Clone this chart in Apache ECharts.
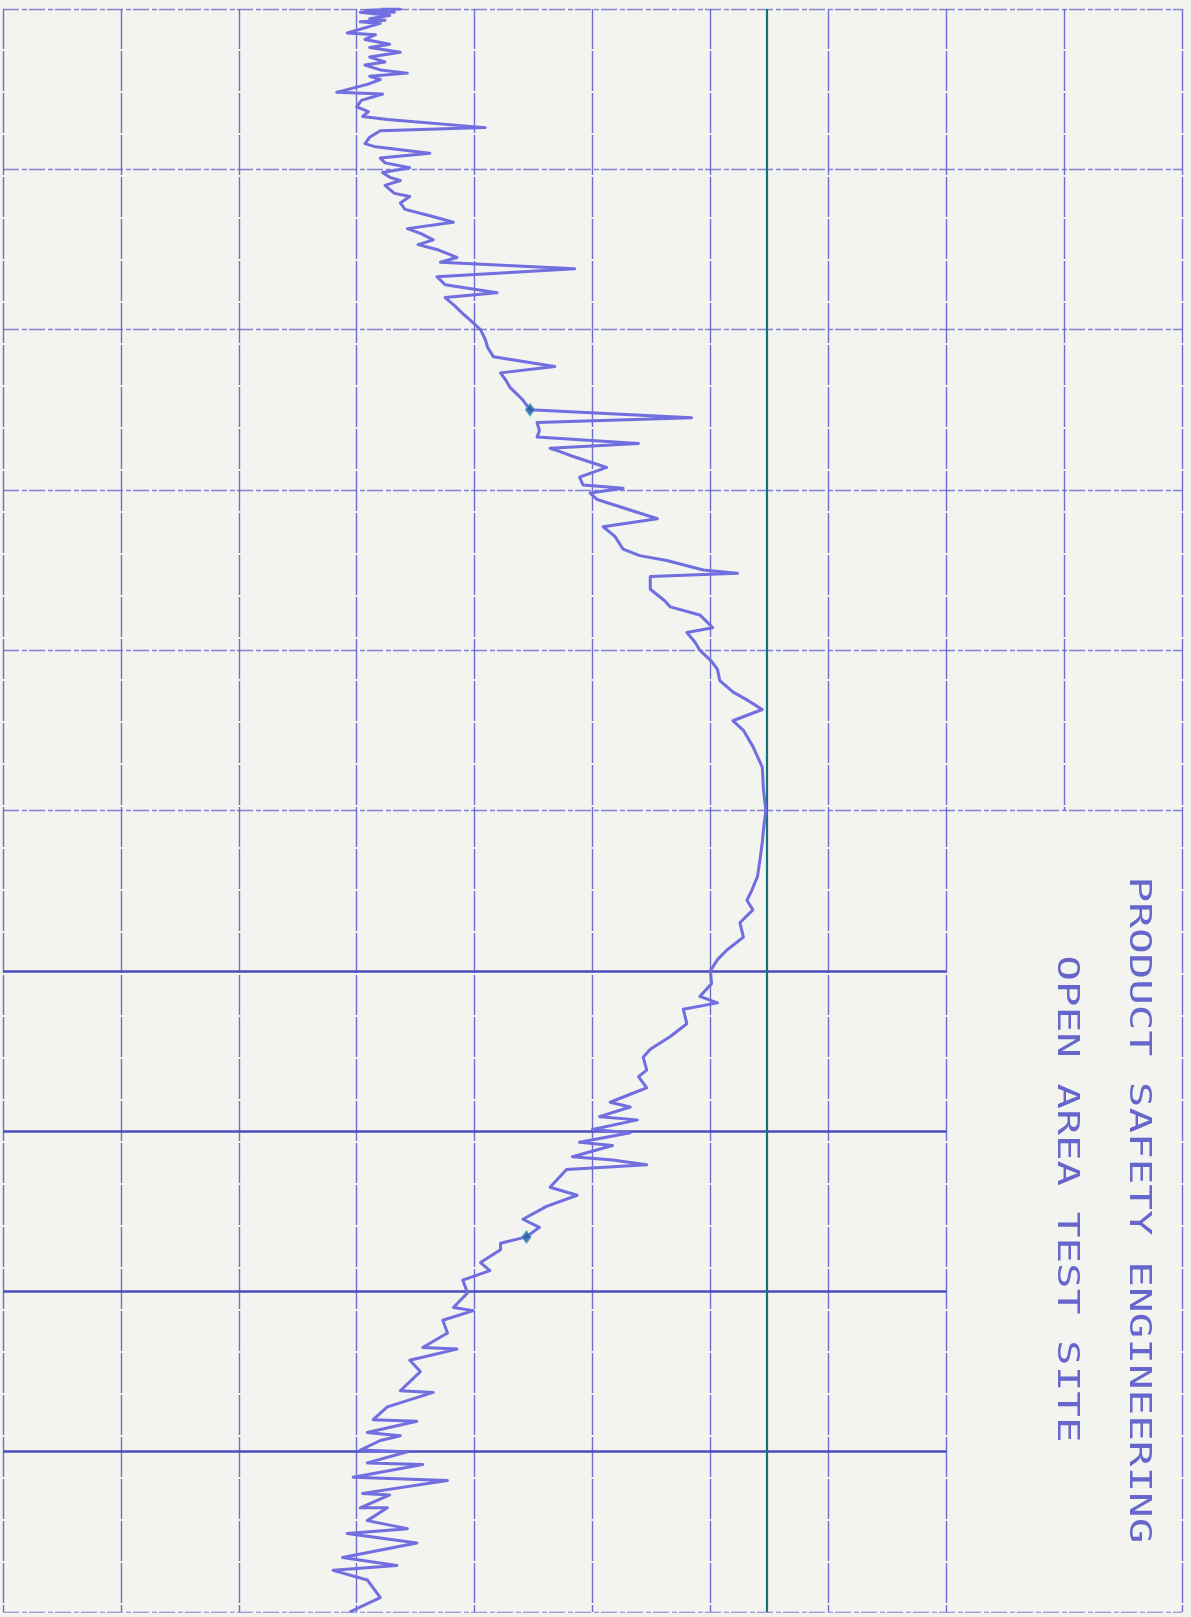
<!DOCTYPE html>
<html>
<head>
<meta charset="utf-8">
<script src="https://cdn.jsdelivr.net/npm/echarts@6/dist/echarts.min.js"></script>
<style>
  html, body { margin: 0; padding: 0; background: #f3f3ef; }
  #chart { width: 1191px; height: 1617px; }
</style>
</head>
<body>
<div id="chart"></div>
<script>
// Sweep position along the scan (grid divisions, 0 at the top edge)
const sweepPos = [
  0.00,0.00,0.01,0.02,0.02,0.04,0.06,0.07,0.08,0.09,
  0.15,0.16,0.19,0.22,0.24,0.27,0.30,0.33,0.35,0.38,
  0.40,0.42,0.44,0.47,0.52,0.53,0.57,0.61,0.64,0.67,
  0.69,0.74,0.76,0.80,0.84,0.86,0.90,0.93,0.96,0.99,
  1.02,1.05,1.07,1.10,1.15,1.17,1.21,1.25,1.29,1.33,
  1.37,1.40,1.44,1.47,1.50,1.55,1.58,1.62,1.67,1.72,
  1.77,1.80,1.85,1.90,1.94,2.00,2.06,2.11,2.17,2.23,
  2.27,2.31,2.36,2.41,2.44,2.50,2.55,2.58,2.63,2.67,
  2.71,2.74,2.76,2.79,2.86,2.92,2.97,2.99,3.02,3.06,
  3.18,3.23,3.29,3.37,3.41,3.44,3.50,3.52,3.54,3.62,
  3.69,3.73,3.78,3.86,3.89,3.95,4.00,4.07,4.12,4.19,
  4.26,4.31,4.37,4.44,4.50,4.60,4.73,4.87,5.00,5.12,
  5.20,5.31,5.41,5.50,5.56,5.62,5.70,5.79,5.87,5.93,
  6.00,6.08,6.16,6.20,6.24,6.33,6.41,6.49,6.54,6.62,
  6.66,6.73,6.77,6.82,6.85,6.91,6.93,6.99,7.01,7.07,
  7.09,7.16,7.18,7.21,7.24,7.35,7.40,7.47,7.55,7.60,
  7.66,7.70,7.74,7.82,7.87,7.93,8.01,8.10,8.12,8.18,
  8.26,8.35,8.36,8.43,8.50,8.62,8.63,8.72,8.80,8.81,
  8.88,8.90,8.93,8.99,9.00,9.07,9.08,9.16,9.18,9.26,
  9.27,9.35,9.35,9.43,9.48,9.51,9.57,9.66,9.71,9.74,
  9.80,9.91,10.00
];

// Measured level at each sweep position (grid divisions from the left edge)
const levelDiv = [
  3.20,3.37,3.07,3.32,3.03,3.28,3.11,3.24,3.03,3.20,
  2.92,3.16,3.07,3.28,3.11,3.37,3.11,3.24,3.07,3.20,
  3.43,3.11,3.20,3.09,2.83,3.22,3.04,3.00,3.10,3.05,
  3.26,4.09,3.20,3.11,3.07,3.16,3.62,3.20,3.24,3.45,
  3.22,3.28,3.37,3.24,3.32,3.45,3.37,3.41,3.62,3.82,
  3.43,3.54,3.65,3.52,3.68,3.85,3.71,4.85,3.68,3.75,
  4.19,3.75,3.83,3.90,3.96,4.05,4.09,4.11,4.16,4.68,
  4.22,4.26,4.30,4.37,4.41,4.47,5.84,4.53,4.55,4.53,
  5.39,4.64,4.72,4.83,5.12,4.89,4.92,5.26,4.98,5.04,
  5.55,5.09,5.19,5.26,5.40,5.63,5.94,6.23,5.49,5.49,
  5.61,5.66,5.91,6.02,5.80,5.87,5.91,6.01,6.06,6.08,
  6.19,6.31,6.44,6.19,6.28,6.36,6.44,6.45,6.47,6.45,
  6.44,6.42,6.40,6.35,6.31,6.36,6.25,6.28,6.14,6.06,
  6.00,6.01,5.91,6.06,5.77,5.80,5.66,5.49,5.43,5.46,
  5.39,5.46,5.32,5.15,5.32,5.06,5.38,5.00,5.32,4.89,
  5.17,4.83,5.17,5.46,4.78,4.64,4.87,4.61,4.41,4.55,
  4.44,4.22,4.22,4.05,4.13,3.90,3.94,3.82,3.99,3.73,
  3.77,3.56,3.85,3.45,3.54,3.37,3.65,3.26,3.14,3.51,
  3.09,3.37,3.20,3.03,3.43,3.09,3.56,2.97,3.77,3.05,
  3.28,3.03,3.26,3.09,3.43,2.92,3.51,2.88,3.34,2.80,
  3.09,3.20,2.94
];

// Two marked points on the trace
const markerPos = [2.50, 7.66];
const markerLevel = [4.47, 4.44];

// Limit line level (grid divisions)
const limitLevel = 6.48;

// Title block text
const titleLines = ['PRODUCT SAFETY ENGINEERING', 'OPEN AREA TEST SITE'];

const INK = '#5e5ecb';
const TRACE = '#716ee0';
const TEAL = '#137378';

// Grid rules in chart units
const divs = [0,1,2,3,4,5,6,7,8,9,10];
const columnRules = [];
const upperRows = [];
const lowerRows = [];
divs.forEach(d => {
  // vertical rules; the one inside the title block stops at its top edge
  columnRules.push({ coords: d === 9 ? [[d, 0], [d, 5]] : [[d, 0], [d, 10]] });
});
divs.forEach(p => {
  if (p <= 5 || p === 10) upperRows.push({ coords: [[0, p], [10, p]] });
  else lowerRows.push({ coords: [[0, p], [8, p]] });
});

const trace = sweepPos.map((s, i) => [levelDiv[i], s]);
const markers = markerPos.map((s, i) => [markerLevel[i], s]);

const chart = echarts.init(document.getElementById('chart'), null, { renderer: 'canvas' });
chart.setOption({
  backgroundColor: '#f3f3ef',
  animation: false,
  grid: { left: 3, top: 9, right: 9, bottom: 5 },
  xAxis: {
    type: 'value', min: 0, max: 10, interval: 1,
    axisLine: { show: false }, axisTick: { show: false },
    axisLabel: { show: false }, splitLine: { show: false }
  },
  yAxis: {
    type: 'value', min: 0, max: 10, interval: 1, inverse: true,
    axisLine: { show: false }, axisTick: { show: false },
    axisLabel: { show: false }, splitLine: { show: false }
  },
  series: [
    {
      type: 'lines', coordinateSystem: 'cartesian2d', z: 1,
      lineStyle: { color: INK, width: 1.4, opacity: 0.9, type: [40, 2] },
      data: columnRules, silent: true
    },
    {
      type: 'lines', coordinateSystem: 'cartesian2d', z: 1,
      lineStyle: { color: INK, width: 1.3, opacity: 0.75, type: [16, 3, 5, 2] },
      data: upperRows, silent: true
    },
    {
      type: 'lines', coordinateSystem: 'cartesian2d', z: 1,
      lineStyle: { color: '#4c4cbe', width: 2.6, opacity: 1 },
      data: lowerRows, silent: true
    },
    {
      type: 'lines', coordinateSystem: 'cartesian2d', z: 2,
      lineStyle: { color: TEAL, width: 2.2, opacity: 1 },
      data: [{ coords: [[limitLevel, 0], [limitLevel, 10]] }], silent: true
    },
    {
      type: 'line', z: 3, showSymbol: false, symbol: 'none',
      lineStyle: { color: TRACE, width: 3, join: 'round' },
      data: trace, silent: true
    },
    {
      type: 'scatter', z: 4, symbol: 'diamond', symbolSize: [9, 12],
      itemStyle: { color: '#24589e', borderColor: '#3f9cc4', borderWidth: 1.2 },
      data: markers, silent: true
    }
  ],
  graphic: [
    {
      type: 'text', x: 1138, y: 1210, rotation: -Math.PI / 2, scaleX: 1.42,
      style: {
        text: titleLines[0], fill: '#6666cc',
        font: '30px "DejaVu Sans Mono"', align: 'center', verticalAlign: 'middle'
      }
    },
    {
      type: 'text', x: 1066, y: 1199, rotation: -Math.PI / 2, scaleX: 1.42,
      style: {
        text: titleLines[1], fill: '#6666cc',
        font: '30px "DejaVu Sans Mono"', align: 'center', verticalAlign: 'middle'
      }
    }
  ]
});
</script>
</body>
</html>
